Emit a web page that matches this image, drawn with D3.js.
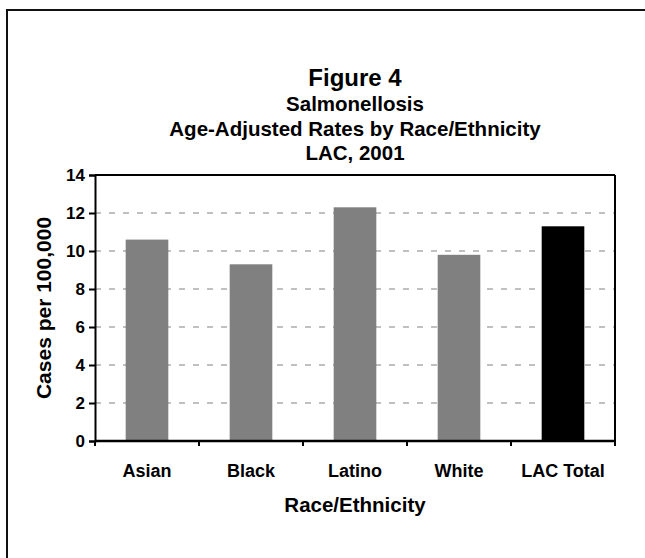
<!DOCTYPE html>
<html>
<head>
<meta charset="utf-8">
<script src="https://cdn.jsdelivr.net/npm/d3@7"></script>
<style>
  html, body { margin: 0; padding: 0; background: #fff; }
  svg { display: block; }
  text { font-family: "Liberation Sans", Arial, sans-serif; font-weight: bold; fill: #000; }
</style>
</head>
<body>
<svg id="chart" width="645" height="558"></svg>
<script>
const categories = ["Asian", "Black", "Latino", "White", "LAC Total"];
const rates = [10.6, 9.3, 12.3, 9.8, 11.3];
const barColors = ["#808080", "#808080", "#808080", "#808080", "#000000"];
const yTicks = [0, 2, 4, 6, 8, 10, 12, 14];
const titleLines = ["Figure 4", "Salmonellosis", "Age-Adjusted Rates by Race/Ethnicity", "LAC, 2001"];
const xTitle = "Race/Ethnicity";
const yTitle = "Cases per 100,000";

const svg = d3.select("#chart");
const plot = { left: 95, right: 615, top: 175, bottom: 441 };

// outer frame (extends past right/bottom edges)
svg.append("rect")
  .attr("x", 7).attr("y", 10).attr("width", 700).attr("height", 600)
  .attr("fill", "none").attr("stroke", "#111").attr("stroke-width", 2);

// titles
const titleY = [86, 111, 136, 160];
const titleSize = [24, 20.5, 20.5, 20.5];
titleLines.forEach((t, i) => {
  svg.append("text")
    .attr("x", 355).attr("y", titleY[i])
    .attr("text-anchor", "middle")
    .style("font-size", titleSize[i] + "px")
    .text(t);
});

const x = d3.scaleBand().domain(categories).range([plot.left, plot.right]).paddingInner(0.59).paddingOuter(0.295);
const xCat = d3.scaleBand().domain(categories).range([plot.left, plot.right]).padding(0);
const y = d3.scaleLinear().domain([0, 14]).range([plot.bottom, plot.top]);

// gridlines
svg.append("g").selectAll("line")
  .data(yTicks.filter(d => d > 0 && d < 14))
  .join("line")
  .attr("x1", plot.left).attr("x2", plot.right)
  .attr("y1", d => y(d)).attr("y2", d => y(d))
  .attr("stroke", "#c0c0c0").attr("stroke-width", 2)
  .attr("stroke-dasharray", "6,8");

// bars
svg.append("g").selectAll("rect")
  .data(categories)
  .join("rect")
  .attr("x", d => x(d))
  .attr("width", x.bandwidth())
  .attr("y", (d, i) => y(rates[i]))
  .attr("height", (d, i) => y(0) - y(rates[i]))
  .attr("fill", (d, i) => barColors[i]);

// plot frame top and right
svg.append("line").attr("x1", plot.left).attr("x2", plot.right).attr("y1", plot.top).attr("y2", plot.top)
  .attr("stroke", "#000").attr("stroke-width", 2);
svg.append("line").attr("x1", plot.right).attr("x2", plot.right).attr("y1", plot.top).attr("y2", plot.bottom)
  .attr("stroke", "#000").attr("stroke-width", 2);

// y axis
const yAxis = svg.append("g")
  .attr("transform", `translate(${plot.left},0)`)
  .call(d3.axisLeft(y).tickValues(yTicks).tickSize(6).tickPadding(4).tickFormat(d3.format("d")));
yAxis.select(".domain").attr("stroke", "#000").attr("stroke-width", 2);
yAxis.selectAll(".tick line").attr("stroke", "#000").attr("stroke-width", 2);
yAxis.selectAll(".tick text").style("font-size", "17px").style("font-family", "Liberation Sans, Arial, sans-serif").style("font-weight", "bold").attr("fill", "#000");

// x axis: ticks at category boundaries
const xAxisG = svg.append("g").attr("transform", `translate(0,${plot.bottom})`);
xAxisG.append("line").attr("x1", plot.left).attr("x2", plot.right).attr("y1", 0).attr("y2", 0)
  .attr("stroke", "#000").attr("stroke-width", 2.5);
const boundaries = categories.map(c => xCat(c)).concat([xCat(categories[categories.length - 1]) + xCat.bandwidth()]);
xAxisG.selectAll("line.tick").data(boundaries).join("line").attr("class", "tick")
  .attr("x1", d => d).attr("x2", d => d).attr("y1", 0).attr("y2", 5)
  .attr("stroke", "#000").attr("stroke-width", 2);
xAxisG.selectAll("text.lbl").data(categories).join("text").attr("class", "lbl")
  .attr("x", d => xCat(d) + xCat.bandwidth() / 2)
  .attr("y", 36)
  .attr("text-anchor", "middle")
  .style("font-size", "18px")
  .text(d => d);

// axis titles
svg.append("text")
  .attr("x", (plot.left + plot.right) / 2).attr("y", 512)
  .attr("text-anchor", "middle").style("font-size", "20.5px").text(xTitle);
svg.append("text")
  .attr("transform", `translate(51,${(plot.top + plot.bottom) / 2}) rotate(-90)`)
  .attr("text-anchor", "middle").style("font-size", "21px").text(yTitle);
</script>
</body>
</html>
